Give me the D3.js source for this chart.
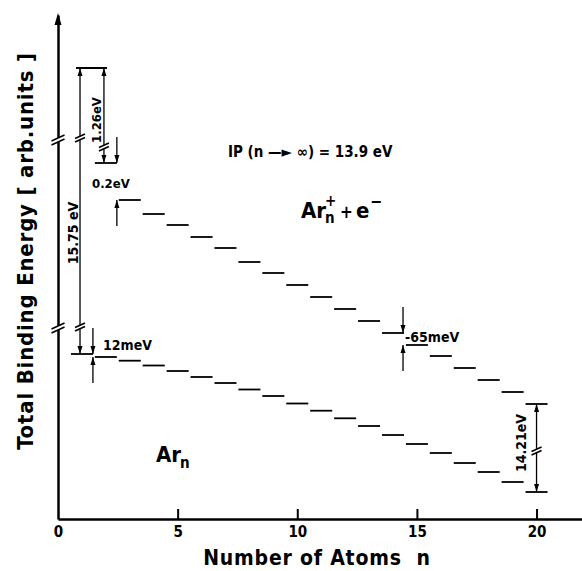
<!DOCTYPE html>
<html><head><meta charset="utf-8">
<script src="https://cdn.jsdelivr.net/npm/d3@7/dist/d3.min.js"></script>
<style>
body{margin:0;background:#fff;}
text{font-family:"DejaVu Sans Condensed","DejaVu Sans",sans-serif;font-weight:bold;fill:#000;white-space:pre;}
</style></head>
<body><svg id="c" width="582" height="571"></svg>
<script>
// ---- data ----
const atomCounts = [1,2,3,4,5,6,7,8,9,10,11,12,13,14,15,16,17,18,19,20];
// total binding energy (arb. units) of neutral clusters Ar_n
const neutralLevels = [165,162,158.3,153.5,148,142,136,129.5,123,115.5,108.3,100.7,93,84,75,66,56,47,37,27];
// total energy of ionised clusters Ar_n+ + e-
const ionLevels = [451,356,319,305,294,282,271,257,246,234,222,210,198,186,174,163,151,139,127,115];
const xTicks = [0,5,10,15,20];
const axisBreaks = [379,191];

const svg = d3.select("#c");
const x = d3.scaleLinear().domain([0,21.9]).range([58,582]);
const y = d3.scaleLinear().domain([0,504]).range([519,15]);

// x axis
const xa = svg.append("g").attr("transform",`translate(0,${y(0)})`)
  .call(d3.axisBottom(x).tickValues(xTicks).tickSize(-10).tickSizeOuter(0).tickPadding(7));
xa.select(".domain").attr("stroke-width",2.5);
xa.selectAll(".tick line").attr("stroke-width",2).filter(d=>d===0).remove();
xa.selectAll(".tick text").style("font-size","15px").attr("font-family",null).attr("font-size",null);

// y axis
const ya = svg.append("g").attr("transform",`translate(${x(0)},0)`)
  .call(d3.axisLeft(y).ticks(0).tickSize(0).tickSizeOuter(0));
ya.select(".domain").attr("stroke-width",2.5);
// arrow on top of y axis
svg.append("path").attr("d",`M${x(0)},${y(504)-2} L${x(0)-3.5},${y(504)+10} L${x(0)+3.5},${y(504)+10} Z`).attr("fill","#000");

function breakMark(cx, val, hw, gap){
  const cy = y(val);
  svg.append("rect").attr("x",cx-2.5).attr("y",cy-gap/2).attr("width",5).attr("height",gap).attr("fill","#fff");
  [-gap/2,gap/2].forEach(d=>{
    svg.append("line").attr("x1",cx-hw).attr("y1",cy+d+hw*0.45).attr("x2",cx+hw).attr("y2",cy+d-hw*0.45)
      .attr("stroke","#000").attr("stroke-width",1.6);
  });
}
axisBreaks.forEach(v=>breakMark(x(0),v,6.5,4));

// axis titles
svg.append("text").attr("x",317).attr("y",565).attr("text-anchor","middle")
  .style("font-size","21px").style("letter-spacing","0.8px").text("Number of Atoms  n");
svg.append("text").attr("transform","translate(33,251) rotate(-90)").attr("text-anchor","middle")
  .style("font-size","22px").style("letter-spacing","0.8px").text("Total Binding Energy [ arb.units ]");

// ---- levels ----
function levelSeg(n, v, x1n, x2n){
  svg.append("line").attr("x1",x(x1n)).attr("x2",x(x2n)).attr("y1",y(v)).attr("y2",y(v))
    .attr("stroke","#000").attr("stroke-width",1.8);
}
atomCounts.forEach((n,i)=>{
  levelSeg(n, neutralLevels[i], n-0.5+0.04, n+0.5-0.04);
  if(n===1) levelSeg(n, ionLevels[i], 0.75, 2.05);
  else levelSeg(n, ionLevels[i], n-0.5+0.04, n+0.5-0.04);
});

// ---- annotations ----
function arrowHead(cx, cy, dir){ // dir -1 = up, +1 = down
  svg.append("path").attr("d",`M${cx},${cy} L${cx-2.5},${cy-dir*8} L${cx+2.5},${cy-dir*8} Z`).attr("fill","#000");
}
function vline(cx, v1, v2){
  svg.append("line").attr("x1",cx).attr("x2",cx).attr("y1",y(v1)).attr("y2",y(v2))
    .attr("stroke","#000").attr("stroke-width",1.3);
}
function dimension(xn, vTop, vBot, breakVals){
  const cx = x(xn);
  vline(cx, vTop, vBot);
  arrowHead(cx, y(vTop), -1);
  arrowHead(cx, y(vBot), 1);
  (breakVals||[]).forEach(b=>breakMark(cx,b,5,3.5));
}
function gapMark(levels, n, xn){
  const cx = x(xn);
  const vUpper = levels[n-2], vLower = levels[n-1];
  vline(cx, vUpper+26, vUpper); arrowHead(cx, y(vUpper), 1);
  vline(cx, vLower, vLower-26); arrowHead(cx, y(vLower), -1);
}
// 15.75 eV: ionisation energy of the atom
dimension(0.92, ionLevels[0], neutralLevels[0], [381,192]);
// 1.26 eV: Ar2+ binding
dimension(1.92, ionLevels[0], ionLevels[1], [372]);
// 14.21 eV: IP of Ar20
dimension(20, ionLevels[19], neutralLevels[19], [68]);
// 0.2 eV between Ar2+ and Ar3+
gapMark(ionLevels, 3, 2.46);
// 12 meV between Ar1 and Ar2
gapMark(neutralLevels, 2, 1.46);
// 65 meV between Ar14+ and Ar15+
gapMark(ionLevels, 15, 14.42);

function label(txt, tx, ty, size, rot){
  const t = svg.append("text").style("font-size",size+"px").text(txt);
  if(rot) t.attr("transform",`translate(${tx},${ty}) rotate(-90)`).attr("text-anchor","middle").attr("dy","0.35em");
  else t.attr("x",tx).attr("y",ty);
  return t;
}
label("15.75 eV", 73, 233, 14, true);
label("1.26eV", 96, 120, 13, true);
label("14.21eV", 521, 443, 14, true);
label("0.2eV", 92, 188, 13);
label("12meV", 103, 350, 14);
label("-65meV", 405, 342, 14);

// IP text
svg.append("text").attr("x",228).attr("y",157).style("font-size","15px")
  .text("IP (n \u2014\u25BA \u221E) = 13.9 eV");

// Ar_n^+ + e^-
svg.append("text").attr("x",301).attr("y",218).style("font-size","22px").text("Ar");
svg.append("text").attr("x",325).attr("y",223).style("font-size","15px").text("n");
svg.append("text").attr("x",325).attr("y",206).style("font-size","15px").text("+");
svg.append("text").attr("x",340).attr("y",218).style("font-size","17px").text("+");
svg.append("text").attr("x",356).attr("y",218).style("font-size","22px").text("e");
svg.append("text").attr("x",370).attr("y",207).style("font-size","16px").text("\u2212");
// Ar_n
svg.append("text").attr("x",156).attr("y",462).style("font-size","22px").text("Ar");
svg.append("text").attr("x",180).attr("y",468).style("font-size","15px").text("n");
</script></body></html>
